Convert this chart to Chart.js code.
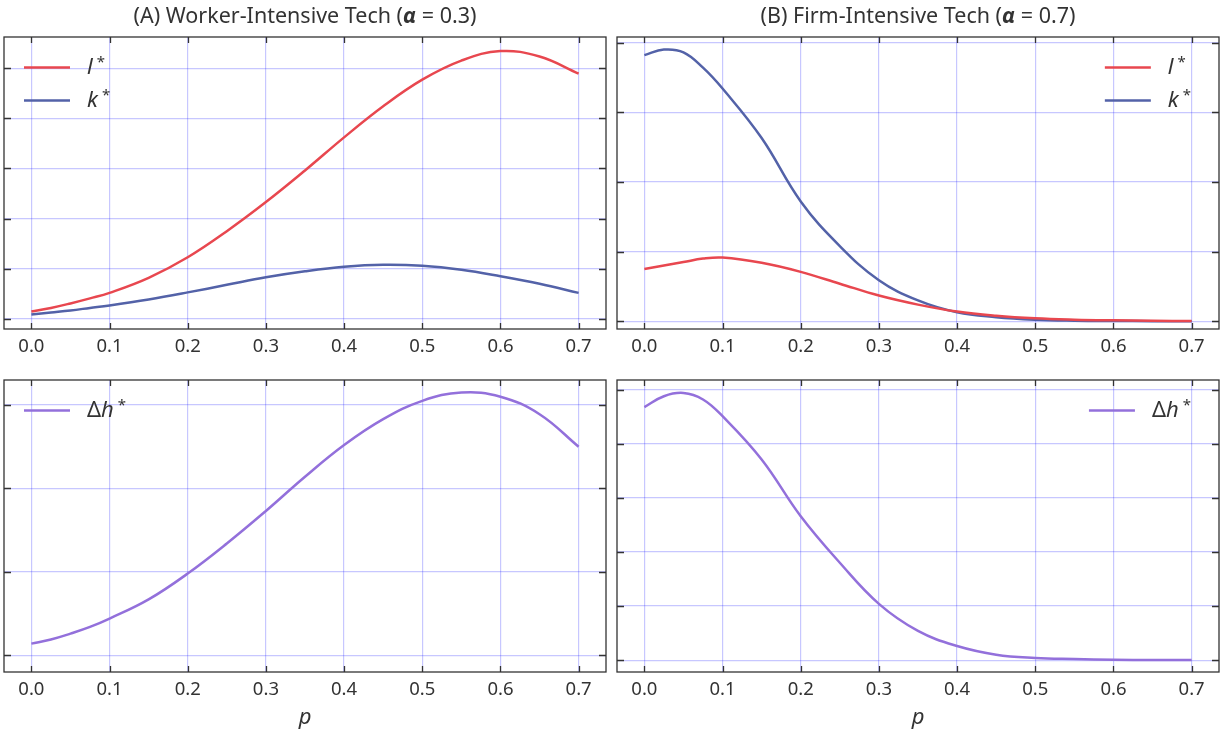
<!DOCTYPE html>
<html>
<head>
<meta charset="utf-8">
<script src="https://cdn.jsdelivr.net/npm/chart.js@4.4.0/dist/chart.umd.min.js"></script>
<style>
  html, body { margin: 0; padding: 0; background: #fff; }
  #wrap { position: relative; width: 1225px; height: 734px; }
  #wrap canvas { position: absolute; left: 0; top: 0; }
</style>
</head>
<body>
<div id="wrap">
  <canvas id="lkWorker" width="1225" height="734"></canvas>
  <canvas id="lkFirm" width="1225" height="734"></canvas>
  <canvas id="dhWorker" width="1225" height="734"></canvas>
  <canvas id="dhFirm" width="1225" height="734"></canvas>
</div>
<script>
// share of p on the horizontal axis
const pGrid = [0, 0.025, 0.05, 0.075, 0.1, 0.15, 0.2, 0.25, 0.3, 0.35, 0.4, 0.45, 0.5, 0.55, 0.6, 0.65, 0.7];
const pTicks = [0, 0.1, 0.2, 0.3, 0.4, 0.5, 0.6, 0.7];

// (A) worker-intensive, alpha = 0.3
const lStarWorker  = [0.15, 0.22, 0.31, 0.41, 0.52, 0.82, 1.23, 1.75, 2.33, 2.96, 3.62, 4.24, 4.77, 5.15, 5.34, 5.23, 4.89];
const kStarWorker  = [0.09, 0.13, 0.17, 0.22, 0.27, 0.39, 0.53, 0.68, 0.83, 0.95, 1.04, 1.08, 1.06, 0.98, 0.85, 0.70, 0.52];
const dhStarWorker = [0.14, 0.19, 0.26, 0.34, 0.44, 0.67, 0.98, 1.34, 1.73, 2.14, 2.52, 2.83, 3.05, 3.15, 3.10, 2.89, 2.50];

// (B) firm-intensive, alpha = 0.7
const lStarFirm  = [0.75, 0.80, 0.85, 0.90, 0.915, 0.84, 0.71, 0.54, 0.37, 0.24, 0.14, 0.08, 0.043, 0.024, 0.014, 0.008, 0.005];
const kStarFirm  = [3.82, 3.90, 3.86, 3.64, 3.34, 2.63, 1.72, 1.08, 0.59, 0.30, 0.13, 0.06, 0.024, 0.01, 0.005, 0.003, 0.002];
const dhStarFirm = [4.68, 4.88, 4.94, 4.82, 4.51, 3.71, 2.66, 1.80, 1.04, 0.54, 0.26, 0.10, 0.04, 0.02, 0.006, 0.002, 0.0];

const FONT = '"Noto Sans", sans-serif';
const INK = '#333333';
const GRID = 'rgba(0, 0, 255, 0.22)';
const RED = '#e8474f';
const BLUE = '#5362a8';
const PURPLE = '#9370db';
const W = 1225, H = 734;

const series = (ys) => pGrid.map((p, i) => ({ x: p, y: ys[i] }));

// box frame plus inward ticks on all four sides
const framePlugin = {
  id: 'frame',
  afterDatasetsDraw(chart) {
    const { ctx, chartArea: a, scales: { x, y } } = chart;
    ctx.save();
    ctx.strokeStyle = INK;
    ctx.lineWidth = 1.3;
    ctx.beginPath();
    x.ticks.forEach(t => {
      const px = Math.round(x.getPixelForValue(t.value)) + 0.5;
      ctx.moveTo(px, a.top); ctx.lineTo(px, a.top + 6);
      ctx.moveTo(px, a.bottom); ctx.lineTo(px, a.bottom - 6);
    });
    y.ticks.forEach(t => {
      const py = Math.round(y.getPixelForValue(t.value)) + 0.5;
      ctx.moveTo(a.left, py); ctx.lineTo(a.left + 7, py);
      ctx.moveTo(a.right, py); ctx.lineTo(a.right - 7, py);
    });
    ctx.stroke();
    ctx.strokeRect(a.left, a.top, a.right - a.left, a.bottom - a.top);
    ctx.restore();
  }
};

// math-style label: italic letters, upright Delta, raised asterisk
function labelParts(label) {
  const base = label.replace('*', '');
  const parts = [];
  for (const ch of base) {
    parts.push({ text: ch, font: (ch === 'Δ' ? '' : 'italic ') + '22px ' + FONT, dy: 0 });
  }
  parts.push({ text: '*', font: '15px ' + FONT, dy: -7, pad: 4 });
  return parts;
}

function measureParts(ctx, parts) {
  let w = 0;
  parts.forEach(p => { ctx.font = p.font; w += (p.pad || 0) + ctx.measureText(p.text).width; });
  return w;
}

const legendPlugin = {
  id: 'innerLegend',
  afterDatasetsDraw(chart, args, opts) {
    const { ctx, chartArea: a } = chart;
    const sets = chart.data.datasets;
    ctx.save();
    const widths = sets.map(ds => measureParts(ctx, labelParts(ds.label)));
    const lineLen = 46, gap = 17;
    const boxW = lineLen + gap + Math.max(...widths);
    const x0 = opts.align === 'right' ? a.right - 28 - boxW : a.left + 20;
    sets.forEach((ds, i) => {
      const yc = a.top + 30.5 + i * 33;
      ctx.strokeStyle = ds.borderColor;
      ctx.lineWidth = 2.5;
      ctx.beginPath();
      ctx.moveTo(x0, yc);
      ctx.lineTo(x0 + lineLen, yc);
      ctx.stroke();
      let tx = x0 + lineLen + gap;
      ctx.fillStyle = INK;
      ctx.textBaseline = 'alphabetic';
      labelParts(ds.label).forEach(p => {
        ctx.font = p.font;
        tx += p.pad || 0;
        ctx.fillText(p.text, tx, yc + 6 + p.dy);
        tx += ctx.measureText(p.text).width;
      });
    });
    ctx.restore();
  }
};

const titlePlugin = {
  id: 'panelTitle',
  afterDraw(chart, args, opts) {
    if (!opts.parts) return;
    const { ctx, chartArea: a } = chart;
    ctx.save();
    ctx.fillStyle = INK;
    ctx.textBaseline = 'middle';
    const runs = opts.parts.map(([text, style]) => ({ text, font: (style ? style + ' ' : '') + '21.5px ' + FONT }));
    let total = 0;
    runs.forEach(r => { ctx.font = r.font; total += ctx.measureText(r.text).width; });
    let tx = (a.left + a.right) / 2 - total / 2;
    runs.forEach(r => {
      ctx.font = r.font;
      ctx.fillText(r.text, tx, 17);
      tx += ctx.measureText(r.text).width;
    });
    ctx.restore();
  }
};

function makePanel(id, box, yMin, yMax, datasets, extra) {
  const bottomRow = !!extra.xTitle;
  const axisH = bottomRow ? H - box.bottom : 40;
  return new Chart(document.getElementById(id), {
    type: 'line',
    data: { datasets },
    options: {
      responsive: false,
      animation: false,
      devicePixelRatio: 1,
      layout: {
        padding: { left: box.left, right: W - box.right, top: box.top, bottom: H - box.bottom - axisH }
      },
      elements: {
        point: { radius: 0 },
        line: { borderWidth: 2.5, tension: 0.4 }
      },
      plugins: {
        legend: { display: false },
        tooltip: { enabled: false },
        innerLegend: { align: extra.legendAlign },
        panelTitle: { parts: extra.title || null }
      },
      scales: {
        x: {
          type: 'linear',
          min: -0.035,
          max: 0.735,
          afterBuildTicks: s => { s.ticks = pTicks.map(v => ({ value: v })); },
          afterFit: s => { s.height = axisH; },
          grid: { color: GRID, lineWidth: 1.2, drawTicks: false },
          border: { display: false },
          ticks: {
            padding: 7,
            color: INK,
            font: { family: FONT, size: 18.5 },
            callback: v => v.toFixed(1)
          },
          title: {
            display: bottomRow,
            text: 'p',
            color: INK,
            font: { family: FONT, size: 22, style: 'italic' },
            padding: { top: 0, bottom: 3 }
          }
        },
        y: {
          min: yMin,
          max: yMax,
          afterFit: s => { s.width = 0; },
          grid: { color: GRID, lineWidth: 1.2, drawTicks: false },
          border: { display: false },
          ticks: { display: false, stepSize: 1, includeBounds: false }
        }
      }
    },
    plugins: [framePlugin, legendPlugin, titlePlugin]
  });
}

const leftTop = { left: 4, right: 606, top: 37, bottom: 329 };
const rightTop = { left: 617, right: 1219, top: 37, bottom: 329 };
const leftBottom = { left: 4, right: 606, top: 380, bottom: 672 };
const rightBottom = { left: 617, right: 1219, top: 380, bottom: 672 };

makePanel('lkWorker', leftTop, -0.2, 5.62, [
  { label: 'l*', data: series(lStarWorker), borderColor: RED },
  { label: 'k*', data: series(kStarWorker), borderColor: BLUE }
], { legendAlign: 'left', title: [['(A) Worker-Intensive Tech (', ''], ['α', 'italic bold'], [' = 0.3)', '']] });

makePanel('lkFirm', rightTop, -0.11, 4.08, [
  { label: 'l*', data: series(lStarFirm), borderColor: RED },
  { label: 'k*', data: series(kStarFirm), borderColor: BLUE }
], { legendAlign: 'right', title: [['(B) Firm-Intensive Tech (', ''], ['α', 'italic bold'], [' = 0.7)', '']] });

makePanel('dhWorker', leftBottom, -0.2, 3.3, [
  { label: 'Δh*', data: series(dhStarWorker), borderColor: PURPLE }
], { legendAlign: 'left', xTitle: true });

makePanel('dhFirm', rightBottom, -0.22, 5.18, [
  { label: 'Δh*', data: series(dhStarFirm), borderColor: PURPLE }
], { legendAlign: 'right', xTitle: true });
</script>
</body>
</html>
